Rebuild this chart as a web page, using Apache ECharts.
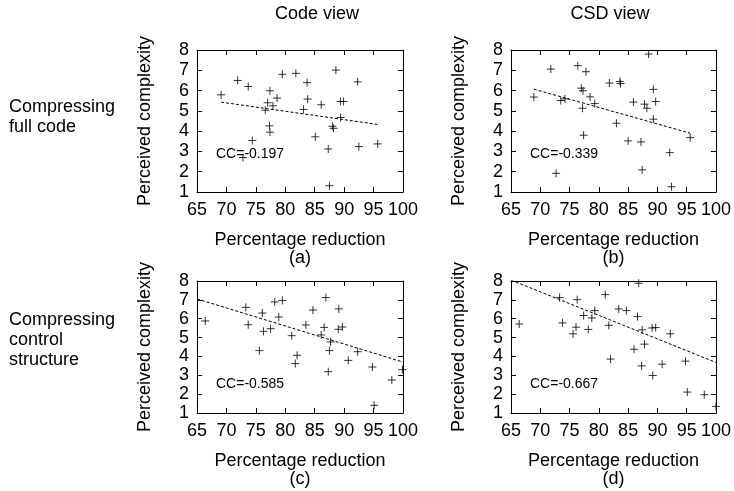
<!DOCTYPE html>
<html>
<head>
<meta charset="utf-8">
<script src="https://cdn.jsdelivr.net/npm/echarts@6/dist/echarts.min.js"></script>
<style>
html,body{margin:0;padding:0;background:#fff;}
#chart{width:734px;height:491px;}
</style>
</head>
<body>
<div id="chart"></div>
<script>
// ---- data ----
const columnTitles = ['Code view', 'CSD view'];
const rowTitles = ['Compressing\nfull code', 'Compressing\ncontrol\nstructure'];
const panelLetters = ['(a)', '(b)', '(c)', '(d)'];
const ccLabels = ['CC=-0.197', 'CC=-0.339', 'CC=-0.585', 'CC=-0.667'];
const xTicks = [65, 70, 75, 80, 85, 90, 95, 100];
const yTicks = [1, 2, 3, 4, 5, 6, 7, 8];
const xName = 'Percentage reduction';
const yName = 'Perceived complexity';

const aX = [69.1, 71.9, 73.7, 74.4, 77.4, 77.0, 76.6, 77.9, 78.6, 77.3, 77.4, 79.5, 81.8, 83.7, 83.8, 83.1, 86.1, 85.1, 87.3, 87.5, 88.6, 88.0, 88.2, 89.4, 89.9, 89.4, 92.3, 92.5, 95.7, 72.8];
const aY = [5.79, 6.50, 6.20, 3.54, 5.99, 5.40, 5.03, 5.25, 5.63, 4.26, 3.95, 6.80, 6.85, 6.39, 5.58, 5.07, 5.30, 3.72, 3.12, 1.31, 7.01, 4.24, 4.14, 5.46, 5.46, 4.67, 6.43, 3.24, 3.37, 2.70];
const bX = [68.9, 71.8, 72.7, 73.5, 74.2, 76.4, 77.0, 77.3, 77.8, 77.2, 77.4, 78.5, 79.3, 81.8, 83.6, 83.7, 83.0, 85.0, 85.9, 87.2, 87.4, 87.8, 88.2, 88.5, 89.3, 89.7, 89.3, 92.1, 92.4, 95.6];
const bY = [5.68, 7.06, 1.92, 5.51, 5.59, 7.23, 6.12, 5.99, 6.93, 5.13, 3.80, 5.69, 5.36, 6.37, 6.45, 6.35, 4.39, 3.52, 5.43, 3.47, 2.09, 5.33, 5.13, 7.80, 6.06, 5.46, 4.59, 2.94, 1.26, 3.68];
const cX = [66.4, 73.3, 73.7, 75.6, 76.1, 76.3, 77.5, 78.2, 79.5, 78.9, 81.1, 82.0, 81.7, 83.5, 84.7, 86.1, 86.6, 86.9, 87.3, 87.5, 87.7, 89.1, 89.0, 89.7, 90.7, 92.3, 94.8, 95.1, 98.1, 99.9];
const cY = [5.88, 6.60, 5.68, 4.31, 6.30, 5.33, 5.47, 6.89, 6.97, 6.09, 5.10, 4.06, 3.62, 5.67, 6.46, 5.14, 5.54, 7.12, 3.19, 4.31, 4.77, 6.52, 5.44, 5.56, 3.79, 4.25, 3.44, 1.41, 2.75, 3.30];
const dX = [66.4, 73.3, 73.8, 76.1, 75.6, 76.3, 77.4, 78.2, 78.8, 79.3, 81.1, 81.7, 82.0, 83.4, 84.7, 86.0, 86.6, 86.8, 87.3, 87.4, 87.8, 89.2, 89.1, 89.7, 90.8, 92.2, 94.8, 95.1, 98.0, 100.0];
const dY = [5.72, 7.12, 5.78, 5.55, 5.20, 7.01, 6.17, 5.43, 6.04, 6.43, 7.28, 5.65, 3.86, 6.52, 6.43, 4.38, 6.11, 7.88, 3.50, 5.41, 4.65, 2.99, 5.51, 5.53, 3.59, 5.20, 3.75, 2.11, 1.97, 1.35];

const aTrendX = [69.1, 95.7], aTrendY = [5.43, 4.33];
const bTrendX = [68.9, 95.6], bTrendY = [6.07, 3.90];
const cTrendX = [65, 100],    cTrendY = [7.05, 3.70];
const dTrendX = [65, 100],    dTrendY = [8.05, 3.68];

// ---- layout / build ----
const FONT = 'Liberation Sans, Arial, Helvetica, sans-serif';
const panels = [
  {x: aX, y: aY, tx: aTrendX, ty: aTrendY, grid: {left: 197, top: 50, width: 206, height: 142}},
  {x: bX, y: bY, tx: bTrendX, ty: bTrendY, grid: {left: 511, top: 50, width: 207, height: 142}},
  {x: cX, y: cY, tx: cTrendX, ty: cTrendY, grid: {left: 197, top: 281, width: 206, height: 132}},
  {x: dX, y: dY, tx: dTrendX, ty: dTrendY, grid: {left: 511, top: 281, width: 207, height: 132}}
];
const zip = (xs, ys) => xs.map((v, i) => [v, ys[i]]);
const lineStyle = {color: '#000', width: 1};
const tickInside = {show: true, inside: true, length: 5, lineStyle: {color: '#000', width: 1}};

const grid = [], xAxis = [], yAxis = [], series = [], graphic = [];
panels.forEach((p, i) => {
  grid.push(Object.assign({containLabel: false}, p.grid));
  const common = {type: 'value', gridIndex: i, min: xTicks[0], max: xTicks[xTicks.length - 1], interval: xTicks[1] - xTicks[0],
    splitLine: {show: false}, axisLine: {show: true, onZero: false, lineStyle}, axisTick: tickInside};
  xAxis.push(Object.assign({}, common, {position: 'bottom',
    axisLabel: {show: true, fontSize: 18, color: '#000', fontFamily: FONT, margin: 9, hideOverlap: false},
    name: xName + '\n' + panelLetters[i], nameLocation: 'middle', nameGap: 39,
    nameTextStyle: {fontSize: 18, color: '#000', fontFamily: FONT, lineHeight: 18, verticalAlign: 'top'}}));
  xAxis.push(Object.assign({}, common, {position: 'top', axisLabel: {show: false}}));
  const ycommon = {type: 'value', gridIndex: i, min: yTicks[0], max: yTicks[yTicks.length - 1], interval: yTicks[1] - yTicks[0],
    splitLine: {show: false}, axisLine: {show: true, onZero: false, lineStyle}, axisTick: tickInside};
  yAxis.push(Object.assign({}, ycommon, {position: 'left',
    axisLabel: {show: true, fontSize: 18, color: '#000', fontFamily: FONT, margin: 8},
    name: yName, nameLocation: 'middle', nameGap: 43,
    nameTextStyle: {fontSize: 18, color: '#000', fontFamily: FONT}}));
  yAxis.push(Object.assign({}, ycommon, {position: 'right', axisLabel: {show: false}}));

  series.push({type: 'scatter', xAxisIndex: 2 * i, yAxisIndex: 2 * i, data: zip(p.x, p.y),
    symbol: 'path://M0,5L10,5M5,0L5,10', symbolSize: 8, clip: false,
    itemStyle: {color: 'none', borderColor: '#000', borderWidth: 1}, silent: true});
  series.push({type: 'line', xAxisIndex: 2 * i, yAxisIndex: 2 * i, data: zip(p.tx, p.ty),
    showSymbol: false, symbol: 'none', silent: true,
    lineStyle: {color: '#000', width: 1, type: [3, 2]}});

  graphic.push({type: 'text', left: p.grid.left + 19, top: p.grid.top + (i < 2 ? 97 : 96),
    style: {text: ccLabels[i], fontSize: 14, fill: '#000', fontFamily: FONT}});
});

graphic.push({type: 'text', x: 317, y: 14, style: {text: columnTitles[0], fontSize: 18, fill: '#000', fontFamily: FONT, align: 'center', verticalAlign: 'middle'}});
graphic.push({type: 'text', x: 610, y: 14, style: {text: columnTitles[1], fontSize: 18, fill: '#000', fontFamily: FONT, align: 'center', verticalAlign: 'middle'}});
graphic.push({type: 'text', x: 9, y: 97, style: {text: rowTitles[0], fontSize: 18, lineHeight: 20, fill: '#000', fontFamily: FONT}});
graphic.push({type: 'text', x: 9, y: 310, style: {text: rowTitles[1], fontSize: 18, lineHeight: 20, fill: '#000', fontFamily: FONT}});

const chart = echarts.init(document.getElementById('chart'), null, {renderer: 'canvas'});
chart.setOption({animation: false, backgroundColor: '#fff', grid, xAxis, yAxis, series, graphic});
</script>
</body>
</html>
